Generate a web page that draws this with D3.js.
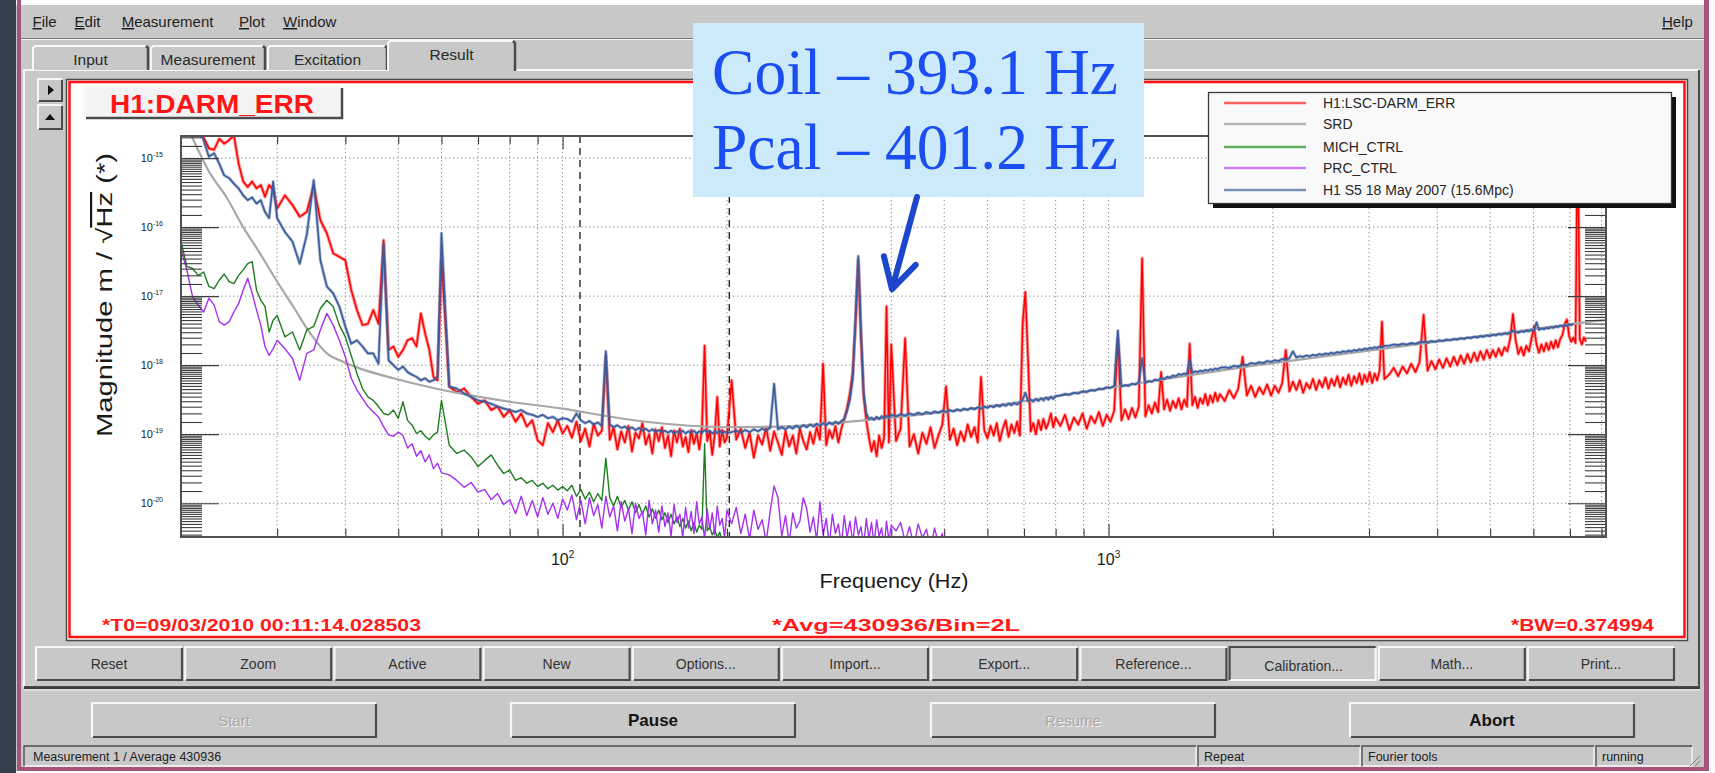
<!DOCTYPE html>
<html>
<head>
<meta charset="utf-8">
<title>H1:DARM_ERR</title>
<script src="https://cdn.jsdelivr.net/npm/d3@7"></script>
<style>
  html, body { margin: 0; padding: 0; background: #ffffff; }
  svg { display: block; }
  text { font-family: "Liberation Sans", Arial, Helvetica, sans-serif; }
  text.serif { font-family: "Liberation Serif", "Times New Roman", serif; }
</style>
</head>
<body>
<svg id="dtt" width="1715" height="773"></svg>
<script>
// ---------------- data ----------------
const menuItems = ["File", "Edit", "Measurement", "Plot", "Window"];
const helpItem = "Help";
const tabNames = ["Input", "Measurement", "Excitation", "Result"];
const activeTab = "Result";
const plotTitle = "H1:DARM_ERR";
const traceNames = ["H1:LSC-DARM_ERR", "SRD", "MICH_CTRL", "PRC_CTRL", "H1 S5 18 May 2007 (15.6Mpc)"];
const infoTexts = ["*T0=09/03/2010 00:11:14.028503", "*Avg=430936/Bin=2L", "*BW=0.374994"];
const actionButtons = ["Reset", "Zoom", "Active", "New", "Options...", "Import...", "Export...",
                       "Reference...", "Calibration...", "Math...", "Print..."];
const pressedButton = "Calibration...";
const controlButtons = ["Start", "Pause", "Resume", "Abort"];
const controlEnabled = [false, true, false, true];
const statusFields = ["Measurement 1 / Average 430936", "Repeat", "Fourier tools", "running"];
const xLabel = "Frequency (Hz)";

// axis ticks (Hz) and decades of the magnitude axis
const xDecadeTicks = [100, 1000];
const xMinorTicks = [30, 40, 50, 60, 70, 80, 90, 200, 300, 400, 500, 600, 700, 800, 900,
                     2000, 3000, 4000, 5000, 6000, 7000, 8000];
const yDecades = [-15, -16, -17, -18, -19, -20];
const yMinorMantissa = [1.5, 2, 2.5, 3, 3.5, 4, 4.5, 5, 5.5, 6, 6.5, 7, 7.5, 8, 8.5, 9, 9.5];

// cursor positions (Hz) and the calibration lines
const cursorFreqs = [107.6, 202];
const calLines = [["Coil", 393.1], ["Pcal", 401.2]];
const arrowTipLog = -16.9;

// frequency bins shared by the measured spectra (Hz)
const freqBins = [
  20, 20.5, 21, 21.5, 22, 22.5, 23, 23.5, 24, 24.5, 25, 25.5, 26, 26.5, 27, 27.5, 28, 28.5, 29, 29.5, 30,
  31, 32, 33, 34, 35, 36, 37, 38, 39, 40, 41, 42, 43, 44, 45, 46, 47, 48, 49, 50,
  51, 52, 53, 54, 55, 56, 57, 58, 59, 60,
  62, 64, 66, 68, 70, 72, 74, 76, 78, 80, 82, 84, 86, 88, 90, 92, 94, 96, 98, 100,
  102, 104, 106, 108, 110, 112, 114, 116, 118, 120, 122, 124, 126, 128, 130, 132, 134, 136, 138, 140,
  142, 144, 146, 148, 150, 152, 154, 156, 158, 160, 162, 164, 166, 168, 170, 172, 174, 176, 178, 180,
  182, 184, 186, 188, 190, 192, 194, 196, 198, 200,
  204, 208, 212, 216, 220, 224, 228, 232, 236, 240, 244, 248, 252, 256, 260, 264, 268, 272, 276, 280,
  284, 288, 292, 296, 300, 304, 308, 312, 316, 320, 324, 328, 332, 336, 340, 344, 348, 352, 356, 360,
  364, 368, 372, 376, 380, 384, 388, 392, 396, 400,
  408, 416, 424, 432, 440, 448, 456, 464, 472, 480, 488, 496, 504, 512, 520, 528, 536, 544, 552, 560,
  568, 576, 584, 592, 600, 608, 616, 624, 632, 640, 648, 656, 664, 672, 680, 688, 696, 704, 712, 720,
  728, 736, 744, 752, 760, 768, 776, 784, 792, 800,
  816, 832, 848, 864, 880, 896, 912, 928, 944, 960, 976, 992, 1008, 1024, 1040, 1056, 1072, 1088, 1104, 1120,
  1136, 1152, 1168, 1184, 1200, 1216, 1232, 1248, 1264, 1280, 1296, 1312, 1328, 1344, 1360, 1376, 1392, 1408, 1424, 1440,
  1456, 1472, 1488, 1504, 1520, 1536, 1552, 1568, 1584, 1600,
  1632, 1664, 1696, 1728, 1760, 1792, 1824, 1856, 1888, 1920, 1952, 1984, 2016, 2048, 2080, 2112, 2144, 2176, 2208, 2240,
  2272, 2304, 2336, 2368, 2400, 2432, 2464, 2496, 2528, 2560, 2592, 2624, 2656, 2688, 2720, 2752, 2784, 2816, 2848, 2880,
  2912, 2944, 2976, 3008, 3040, 3072, 3104, 3136, 3168, 3200,
  3264, 3328, 3392, 3456, 3520, 3584, 3648, 3712, 3776, 3840, 3904, 3968, 4032, 4096, 4160, 4224, 4288, 4352, 4416, 4480,
  4544, 4608, 4672, 4736, 4800, 4864, 4928, 4992, 5056, 5120, 5184, 5248, 5312, 5376, 5440, 5504, 5568, 5632, 5696, 5760,
  5824, 5888, 5952, 6016, 6080, 6144, 6208, 6272, 6336, 6400, 6464, 6528, 6592, 6656, 6720, 6784, 6848, 6912, 6976, 7040,
  7104, 7168, 7232, 7296, 7360, 7424, 7488
];

// H1:LSC-DARM_ERR, log10 of m/rtHz, one value per bin
const darmErr = [
  // 20-30 Hz
  -14.5, -14.5, -14.5, -14.5, -14.7, -14.86, -14.88, -14.72, -14.79, -14.74, -14.67, -15.08, -15.34, -15.42, -15.34, -15.44, -15.39, -15.56, -15.39, -15.46, -15.73,
  // 31-60 Hz
  -15.54, -15.68, -15.85, -15.78, -15.40, -15.90, -16.09, -16.38, -16.43, -16.48, -16.91, -17.20, -17.42, -17.40, -17.20, -17.40, -16.19, -17.78, -17.73, -17.88,
  -17.78, -17.64, -17.61, -17.73, -17.25, -17.54, -17.78, -18.17, -18.22, -16.48,
  // 62-100 Hz
  -18.31, -18.39, -18.34, -18.46, -18.56, -18.51, -18.65, -18.60, -18.75, -18.65, -18.82, -18.70, -18.89, -18.80, -19.09, -19.16, -18.84, -18.97, -18.80, -18.99,
  // 102-200 Hz
  -18.88, -19.05, -18.82, -19.10, -18.92, -19.18, -18.85, -19.02, -18.95, -17.86, -19.08, -18.90, -19.22, -18.96, -19.12, -18.88, -19.25, -18.98, -19.06, -18.84,
  -19.15, -19.00, -19.28, -18.93, -19.10, -18.90, -19.20, -19.02, -19.32, -18.95, -19.12, -18.92, -19.18, -19.04, -19.26, -18.94, -19.14, -18.99, -19.22, -18.90,
  -17.72, -19.10, -18.96, -19.30, -19.00, -18.46, -19.18, -18.94, -19.12, -19.05,
  // 204-400 Hz
  -18.22, -19.08, -18.92, -19.20, -18.98, -19.34, -19.02, -19.15, -18.90, -19.24, -18.96, -19.12, -19.30, -18.95, -19.18, -19.02, -19.28, -18.92, -19.10, -19.22,
  -18.97, -19.14, -18.90, -19.08, -17.98, -19.16, -18.94, -19.06, -18.88, -19.12, -18.92, -18.78, -18.62, -18.40, -18.10, -17.40, -16.48, -17.60, -18.45, -18.80,
  -19.05, -19.25, -19.10, -19.32, -19.02, -19.20, -19.06, -17.15, -19.12, -17.70,
  // 408-800 Hz
  -19.10, -18.92, -17.61, -19.18, -19.00, -19.28, -18.98, -19.14, -18.90, -19.20, -19.02, -18.86, -18.31, -19.08, -18.92, -19.16, -18.96, -19.10, -18.86, -19.04,
  -18.90, -19.12, -18.17, -18.94, -19.06, -18.88, -19.02, -18.84, -19.10, -18.92, -18.80, -19.04, -18.86, -18.98, -18.82, -19.02, -17.40, -16.94, -17.90, -18.96,
  -18.84, -19.00, -18.80, -18.94, -18.78, -18.92, -18.84, -18.70, -18.90, -18.76,
  // 816-1600 Hz
  -18.88, -18.72, -18.94, -18.76, -18.86, -18.70, -18.92, -18.74, -18.84, -18.68, -18.88, -18.72, -18.82, -18.66, -17.62, -18.80, -18.64, -18.78, -18.62, -18.76,
  -18.60, -16.45, -18.74, -18.58, -18.70, -18.54, -18.68, -18.10, -18.64, -18.50, -18.66, -18.52, -18.62, -18.48, -18.64, -18.50, -18.60, -17.69, -18.58, -18.46,
  -18.62, -18.48, -18.56, -18.42, -18.58, -18.44, -18.54, -18.40, -18.52, -18.42,
  // 1632-3200 Hz
  -18.52, -18.36, -18.48, -18.34, -17.88, -18.44, -18.30, -18.46, -18.32, -18.42, -18.28, -18.44, -18.30, -18.40, -18.26, -17.78, -18.38, -18.24, -18.36, -18.22,
  -18.40, -18.26, -18.34, -18.20, -18.36, -18.22, -18.32, -18.18, -18.34, -18.20, -18.30, -18.16, -18.32, -18.18, -18.28, -18.14, -18.30, -18.16, -18.26, -18.12,
  -18.28, -18.14, -18.24, -18.10, -18.26, -18.12, -18.22, -18.08, -17.37, -18.20,
  // 3264-7488 Hz
  -18.14, -18.04, -18.16, -18.02, -18.12, -17.98, -18.10, -17.96, -17.27, -18.08, -17.94, -18.06, -17.92, -18.04, -17.90, -18.02, -17.88, -18.00, -17.86, -17.98,
  -17.84, -17.96, -17.82, -17.94, -17.80, -17.92, -17.78, -17.90, -17.78, -17.88, -17.76, -17.86, -17.74, -17.80, -17.62, -17.26, -17.64, -17.84, -17.74, -17.86,
  -17.72, -17.80, -17.62, -17.44, -17.70, -17.82, -17.70, -17.80, -17.68, -17.78, -17.66, -17.76, -17.64, -17.74, -17.62, -17.56, -17.40, -17.34, -17.58, -17.66,
  -17.60, -17.68, -14.40, -17.62, -17.70, -17.60, -17.66
];

// H1 S5 reference (18 May 2007), log10 of m/rtHz
const s5Ref = [
  // 20-30 Hz
  -14.5, -14.5, -14.5, -14.5, -14.74, -14.98, -14.93, -15.08, -15.25, -15.29, -15.37, -15.44, -15.54, -15.61, -15.57, -15.66, -15.61, -15.78, -15.87, -15.34, -15.87,
  // 31-60 Hz
  -16.07, -16.21, -16.53, -16.11, -15.32, -16.48, -16.86, -16.96, -17.15, -17.44, -17.69, -17.64, -17.73, -17.83, -17.83, -17.98, -16.24, -17.93, -18.00, -18.07,
  -18.02, -18.10, -18.14, -18.17, -18.22, -18.19, -18.24, -18.22, -18.17, -16.09,
  // 62-100 Hz
  -18.31, -18.34, -18.41, -18.46, -18.51, -18.53, -18.56, -18.60, -18.63, -18.65, -18.68, -18.65, -18.70, -18.72, -18.75, -18.72, -18.77, -18.75, -18.80, -18.77,
  // 102-200 Hz
  -18.78, -18.82, -18.70, -18.80, -18.84, -18.81, -18.86, -18.83, -18.88, -17.80, -18.86, -18.90, -18.87, -18.91, -18.89, -18.93, -18.90, -18.94, -18.91, -18.95,
  -18.92, -18.96, -18.93, -18.97, -18.94, -18.97, -18.95, -18.98, -18.95, -18.99, -18.96, -18.98, -18.95, -18.99, -18.96, -18.98, -18.95, -18.99, -18.96, -18.98,
  -18.94, -18.97, -18.95, -18.99, -18.96, -18.98, -18.95, -18.99, -18.96, -18.98,
  // 204-400 Hz
  -18.97, -18.95, -18.98, -18.94, -18.97, -18.93, -18.96, -18.92, -18.95, -18.91, -18.27, -18.93, -18.90, -18.93, -18.89, -18.92, -18.88, -18.91, -18.87, -18.90,
  -18.86, -18.89, -18.85, -18.88, -18.84, -18.87, -18.83, -18.86, -18.82, -18.85, -18.81, -18.78, -18.66, -18.50, -18.20, -17.30, -16.42, -17.50, -18.40, -18.70,
  -18.78, -18.76, -18.79, -18.75, -18.78, -18.74, -18.77, -18.73, -18.76, -18.72,
  // 408-800 Hz
  -18.74, -18.71, -18.73, -18.70, -18.72, -18.69, -18.71, -18.68, -18.70, -18.67, -18.69, -18.66, -18.68, -18.65, -18.67, -18.64, -18.66, -18.63, -18.65, -18.62,
  -18.64, -18.61, -18.63, -18.60, -18.62, -18.59, -18.61, -18.58, -18.60, -18.57, -18.59, -18.56, -18.58, -18.55, -18.57, -18.54, -18.50, -18.40, -18.52, -18.50,
  -18.53, -18.49, -18.52, -18.48, -18.51, -18.47, -18.50, -18.46, -18.49, -18.45,
  // 816-1600 Hz
  -18.44, -18.42, -18.43, -18.40, -18.41, -18.38, -18.39, -18.36, -18.37, -18.34, -18.35, -18.32, -18.33, -18.30, -17.50, -18.31, -18.29, -18.30, -18.27, -18.28,
  -18.25, -17.90, -18.26, -18.23, -18.24, -18.21, -18.22, -18.19, -18.20, -18.17, -18.18, -18.15, -18.16, -18.13, -18.14, -18.12, -18.13, -17.92, -18.11, -18.09,
  -18.10, -18.08, -18.09, -18.07, -18.08, -18.06, -18.07, -18.05, -18.06, -18.04,
  // 1632-3200 Hz
  -18.03, -18.04, -18.01, -18.02, -17.99, -18.00, -17.97, -17.98, -17.96, -17.97, -17.94, -17.95, -17.93, -17.94, -17.91, -17.92, -17.90, -17.80, -17.89, -17.87,
  -17.88, -17.86, -17.87, -17.85, -17.86, -17.84, -17.85, -17.83, -17.84, -17.82, -17.83, -17.81, -17.82, -17.80, -17.81, -17.79, -17.80, -17.78, -17.79, -17.77,
  -17.78, -17.76, -17.77, -17.75, -17.76, -17.74, -17.75, -17.73, -17.74, -17.72,
  // 3264-7104 Hz
  -17.72, -17.70, -17.71, -17.69, -17.70, -17.68, -17.69, -17.67, -17.66, -17.67, -17.65, -17.66, -17.64, -17.65, -17.63, -17.64, -17.62, -17.63, -17.61, -17.62,
  -17.60, -17.61, -17.59, -17.60, -17.58, -17.59, -17.57, -17.58, -17.56, -17.57, -17.55, -17.56, -17.54, -17.55, -17.53, -17.50, -17.52, -17.53, -17.51, -17.52,
  -17.50, -17.51, -17.49, -17.50, -17.38, -17.49, -17.47, -17.48, -17.46, -17.47, -17.45, -17.46, -17.44, -17.45, -17.43, -17.44, -17.42, -17.43, -17.41, -17.42,
  -17.40
];

// MICH_CTRL, log10 of m/rtHz (20-200 Hz)
const michCtrl = [
  -16.21, -16.57, -16.60, -16.70, -16.65, -16.86, -16.89, -16.77, -16.68, -16.79, -16.82, -16.70, -16.62, -16.53, -16.50, -16.91, -17.06, -17.15, -17.52, -17.35, -17.28,
  -17.59, -17.52, -17.78, -17.49, -17.44, -17.18, -17.06, -17.15, -17.42, -17.59, -17.86, -18.12, -18.34, -18.46, -18.51, -18.60, -18.70, -18.72, -18.65, -18.77,
  -18.53, -18.80, -18.87, -18.99, -18.95, -19.03, -19.08, -19.01, -18.97, -18.51,
  -19.16, -19.28, -19.23, -19.33, -19.47, -19.38, -19.30, -19.45, -19.57, -19.52, -19.67, -19.63, -19.71, -19.67, -19.76, -19.71, -19.79, -19.74, -19.81, -19.76,
  -19.82, -19.74, -19.90, -19.80, -19.94, -19.84, -19.98, -19.86, -19.96, -19.35, -19.92, -20.04, -19.90, -20.06, -19.96, -20.10, -19.98, -20.14, -20.02, -20.16,
  -20.04, -20.20, -20.08, -20.22, -20.10, -20.24, -20.14, -20.28, -20.16, -20.30, -20.20, -20.34, -20.22, -20.36, -20.26, -20.40, -20.28, -20.42, -20.32, -20.38,
  -19.14, -20.40, -20.34, -20.46, -20.38, -20.50, -20.42, -20.56, -20.48, -20.60
];

// PRC_CTRL, log10 of m/rtHz (20-512 Hz)
const prcCtrl = [
  -16.33, -16.62, -17.01, -17.13, -17.23, -17.03, -17.13, -17.37, -17.42, -17.37, -17.23, -17.11, -16.91, -16.74, -16.96, -17.20, -17.42, -17.73, -17.86, -17.76, -17.64,
  -17.76, -17.90, -18.22, -17.83, -17.78, -17.49, -17.25, -17.42, -17.64, -17.88, -18.19, -18.36, -18.48, -18.60, -18.68, -18.75, -18.89, -19.01, -19.03, -18.97,
  -19.02, -19.20, -19.14, -19.32, -19.24, -19.40, -19.30, -19.50, -19.42, -19.56,
  -19.59, -19.67, -19.77, -19.70, -19.84, -19.80, -19.95, -19.86, -20.02, -19.95, -20.15, -19.90, -20.18, -19.96, -20.20, -19.92, -20.16, -20.00, -20.22, -19.94,
  -20.10, -19.88, -20.24, -19.96, -20.30, -19.92, -20.18, -20.02, -20.36, -19.90, -20.20, -20.04, -20.40, -19.98, -20.26, -20.08, -20.44, -20.00, -20.22, -20.12,
  -20.46, -19.96, -20.30, -20.10, -20.42, -20.04, -20.34, -20.14, -20.48, -20.02, -20.28, -20.16, -20.50, -20.06, -20.36, -20.12, -20.44, -19.98, -20.30, -20.20,
  -20.52, -20.08, -20.38, -20.14, -20.46, -20.04, -20.32, -20.22, -20.50, -20.10,
  -20.30, -20.06, -20.44, -20.16, -20.52, -20.10, -20.38, -20.24, -20.56, -20.12, -19.75, -19.92, -20.48, -20.18, -20.58, -20.14, -20.36, -20.26, -19.92, -20.08,
  -20.42, -20.20, -20.54, -19.98, -20.46, -20.22, -20.60, -20.16, -20.44, -20.30, -20.62, -20.18, -20.50, -20.26, -20.58, -20.20, -20.46, -20.34, -20.64, -20.22,
  -20.52, -20.28, -20.60, -20.24, -20.48, -20.36, -20.66, -20.26, -20.54, -20.32,
  -20.40, -20.28, -20.56, -20.34, -20.62, -20.30, -20.50, -20.38, -20.66, -20.36, -20.58, -20.44, -20.70, -20.60
];

// SRD design curve
const srdFreq = [20, 20.9, 22.6, 24.2, 26.0, 27.9, 29.9, 32.1, 34.5, 37.0, 39.6, 42.6, 49, 56.4, 64.9, 80, 100,
                 130, 160, 200, 250, 300, 400, 600, 1000, 2000, 3000, 5000, 8150];
const srdLog = [-14.38, -14.68, -15.22, -15.56, -16.0, -16.38, -16.77, -17.15, -17.54, -17.83, -17.95, -18.05, -18.19,
                -18.31, -18.41, -18.53, -18.63, -18.78, -18.86, -18.90, -18.89, -18.85, -18.76, -18.60, -18.33,
                -17.97, -17.79, -17.56, -17.34];

// ---------------- drawing ----------------
const svg = d3.select("#dtt");
const W = 1715, H = 773;
const GUI_BG = "#c8c8c8";
const HI = "#f7f7f7", LO = "#4b4b4b";

function bevel(g, x, y, w, h, opt = {}) {
  const fill = opt.fill || GUI_BG, sunken = !!opt.sunken, lw = opt.lw || 2;
  const b = g.append("g");
  b.append("rect").attr("x", x).attr("y", y).attr("width", w).attr("height", h).attr("fill", fill);
  b.append("path").attr("d", `M${x},${y + h} V${y} H${x + w}`)
    .attr("stroke", sunken ? LO : HI).attr("stroke-width", lw).attr("fill", "none");
  b.append("path").attr("d", `M${x + 1},${y + h} H${x + w} V${y + 1}`)
    .attr("stroke", sunken ? HI : LO).attr("stroke-width", lw).attr("fill", "none");
  return b;
}

// window frame
svg.append("rect").attr("width", W).attr("height", H).attr("fill", "#fdfdfd");
svg.append("rect").attr("x", 0).attr("y", 5).attr("width", 1709).attr("height", 766).attr("fill", GUI_BG);
svg.append("rect").attr("x", 0).attr("y", 0).attr("width", 16).attr("height", H).attr("fill", "#35414d");
svg.append("rect").attr("x", 17).attr("y", 0).attr("width", 4).attr("height", 771).attr("fill", "#a6557a");
svg.append("rect").attr("x", 1704).attr("y", 0).attr("width", 5).attr("height", 771).attr("fill", "#a6557a");
svg.append("rect").attr("x", 17).attr("y", 767).attr("width", 1692).attr("height", 4).attr("fill", "#a6557a");

// menu bar
const menuX = [32.5, 74.6, 121.7, 239, 283];
const menuG = svg.append("g").attr("font-size", 15).attr("fill", "#1e1e1e");
menuItems.forEach((m, i) => {
  const t = menuG.append("text").attr("x", menuX[i]).attr("y", 27);
  t.append("tspan").attr("text-decoration", "underline").text(m[0]);
  t.append("tspan").text(m.slice(1));
});
{
  const t = menuG.append("text").attr("x", 1662).attr("y", 27);
  t.append("tspan").attr("text-decoration", "underline").text(helpItem[0]);
  t.append("tspan").text(helpItem.slice(1));
}
svg.append("line").attr("x1", 21).attr("x2", 1704).attr("y1", 38.5).attr("y2", 38.5).attr("stroke", "#7d7d7d");
svg.append("line").attr("x1", 21).attr("x2", 1704).attr("y1", 39.5).attr("y2", 39.5).attr("stroke", "#f2f2f2");

// tab panel
const tabEdges = [[33, 148], [151, 265], [268, 387], [388, 515]];
const panel = svg.append("g");
panel.append("rect").attr("x", 24).attr("y", 70).attr("width", 1676).attr("height", 617).attr("fill", GUI_BG);
panel.append("path").attr("d", "M24,687 V70 H388 M515,70 H1700").attr("stroke", HI).attr("stroke-width", 2).attr("fill", "none");
panel.append("path").attr("d", "M1699,70 V687 H24").attr("stroke", LO).attr("stroke-width", 2).attr("fill", "none");

const tabG = svg.append("g").attr("font-size", 15.5).attr("fill", "#2a2a2a").attr("text-anchor", "middle");
tabNames.forEach((name, i) => {
  const [a, b] = tabEdges[i];
  const active = name === activeTab;
  const top = active ? 41 : 46;
  const bottom = active ? 71 : 70;
  tabG.append("rect").attr("x", a).attr("y", top).attr("width", b - a).attr("height", bottom - top).attr("fill", GUI_BG);
  tabG.append("path").attr("d", `M${a},${bottom} V${top + 2} L${a + 2},${top} H${b - 2}`)
    .attr("stroke", HI).attr("stroke-width", 2).attr("fill", "none");
  tabG.append("path").attr("d", `M${b - 2},${top} L${b},${top + 2} V${bottom}`)
    .attr("stroke", LO).attr("stroke-width", 2.5).attr("fill", "none");
  tabG.append("text").attr("x", (a + b) / 2).attr("y", active ? 60 : 65).text(name);
});

// small arrow buttons at the left of the plot
bevel(svg, 38, 79, 24, 22);
bevel(svg, 38, 105, 24, 24);
svg.append("path").attr("d", "M48,85 L54,90 L48,95 Z").attr("fill", "#111");
svg.append("path").attr("d", "M45,120 L50,114 L55,120 Z").attr("fill", "#111");

// plot frame
svg.append("rect").attr("x", 66.5).attr("y", 79.5).attr("width", 1621).attr("height", 561)
  .attr("fill", "#ffffff").attr("stroke", "#4a4a4a").attr("stroke-width", 1.5);
svg.append("rect").attr("x", 69.5).attr("y", 82).attr("width", 1615).attr("height", 555)
  .attr("fill", "none").attr("stroke", "#ff1212").attr("stroke-width", 2.5);

// scales
const plotL = 181, plotR = 1606, plotT = 136, plotB = 537;
const x = d3.scaleLog().domain([20, 8150]).range([plotL, plotR]);
const y = d3.scaleLog().domain([Math.pow(10, -20.49), Math.pow(10, -14.68)]).range([plotB, plotT]);
const yl = v => y(Math.pow(10, v));

const plot = svg.append("g");
svg.append("defs").append("clipPath").attr("id", "plotClip")
  .append("rect").attr("x", plotL).attr("y", plotT).attr("width", plotR - plotL).attr("height", plotB - plotT);

// grid
const gridG = plot.append("g").attr("stroke", "#8a8a8a").attr("stroke-width", 1).attr("stroke-dasharray", "1.3,2.7");
xMinorTicks.concat(xDecadeTicks).forEach(f => {
  gridG.append("line").attr("x1", x(f)).attr("x2", x(f)).attr("y1", plotT).attr("y2", plotB);
});
yDecades.forEach(d => {
  gridG.append("line").attr("x1", plotL).attr("x2", plotR).attr("y1", yl(d)).attr("y2", yl(d));
});

// cursors
cursorFreqs.forEach(f => {
  plot.append("line").attr("x1", x(f)).attr("x2", x(f)).attr("y1", plotT).attr("y2", plotB)
    .attr("stroke", "#262626").attr("stroke-width", 1.4).attr("stroke-dasharray", "7,5");
});

// traces
const traceStyles = [
  { color: "#ff0000", width: 1.5, halo: 3.4 },
  { color: "#a8a8a8", width: 2.2 },
  { color: "#1f7d1f", width: 1.4 },
  { color: "#a431ef", width: 1.4 },
  { color: "#3d5c9c", width: 1.6, halo: 3.2 }
];
const legendColors = ["#ff5f5f", "#b5b5b5", "#5fae5f", "#cc82f2", "#7f90b8"];

const pairs = vals => vals.map((v, i) => [freqBins[i], v]);
const line = d3.line().defined(d => d[1] != null).x(d => x(d[0])).y(d => yl(d[1]));
const srdLine = d3.line().curve(d3.curveMonotoneX).x(d => x(d[0])).y(d => yl(d[1]));

const traceG = plot.append("g").attr("clip-path", "url(#plotClip)").attr("fill", "none")
  .attr("stroke-linejoin", "round");
const series = [
  { path: line(pairs(darmErr)), s: traceStyles[0] },
  { path: srdLine(srdFreq.map((f, i) => [f, srdLog[i]])), s: traceStyles[1] },
  { path: line(pairs(michCtrl)), s: traceStyles[2] },
  { path: line(pairs(prcCtrl)), s: traceStyles[3] },
  { path: line(pairs(s5Ref)), s: traceStyles[4] }
];
series.forEach(d => {
  // a soft under-stroke thickens the dense noise floor of the averaged spectra
  if (d.s.halo) {
    traceG.append("path").attr("d", d.path).attr("stroke", d.s.color)
      .attr("stroke-width", d.s.halo).attr("stroke-opacity", 0.4);
  }
  traceG.append("path").attr("d", d.path).attr("stroke", d.s.color).attr("stroke-width", d.s.width);
});

// axes with inward ticks
function styleAxis(g) {
  g.select(".domain").remove();
  g.selectAll(".tick line").attr("stroke", "#3c3c3c").attr("stroke-width", 1.1);
}
plot.append("g").attr("transform", `translate(0,${plotB})`)
  .call(d3.axisBottom(x).tickValues(xMinorTicks).tickSize(-8).tickFormat("")).call(styleAxis);
plot.append("g").attr("transform", `translate(0,${plotB})`)
  .call(d3.axisBottom(x).tickValues(xDecadeTicks).tickSize(-13).tickFormat("")).call(styleAxis);
plot.append("g").attr("transform", `translate(0,${plotT})`)
  .call(d3.axisTop(x).tickValues(xMinorTicks).tickSize(-8).tickFormat("")).call(styleAxis);
plot.append("g").attr("transform", `translate(0,${plotT})`)
  .call(d3.axisTop(x).tickValues(xDecadeTicks).tickSize(-13).tickFormat("")).call(styleAxis);

const yMinorVals = [];
yDecades.concat([-14]).forEach(d => yMinorMantissa.forEach(m => {
  const v = m * Math.pow(10, d - 1);
  if (v > y.domain()[0] && v < y.domain()[1]) yMinorVals.push(v);
}));
const yMajorVals = yDecades.map(d => Math.pow(10, d));
plot.append("g").attr("transform", `translate(${plotL},0)`)
  .call(d3.axisLeft(y).tickValues(yMinorVals).tickSize(-21).tickFormat("")).call(styleAxis);
plot.append("g").attr("transform", `translate(${plotL},0)`)
  .call(d3.axisLeft(y).tickValues(yMajorVals).tickSize(-38).tickFormat("")).call(styleAxis);
plot.append("g").attr("transform", `translate(${plotR},0)`)
  .call(d3.axisRight(y).tickValues(yMinorVals).tickSize(-21).tickFormat("")).call(styleAxis);
plot.append("g").attr("transform", `translate(${plotR},0)`)
  .call(d3.axisRight(y).tickValues(yMajorVals).tickSize(-38).tickFormat("")).call(styleAxis);

plot.append("rect").attr("x", plotL).attr("y", plotT).attr("width", plotR - plotL).attr("height", plotB - plotT)
  .attr("fill", "none").attr("stroke", "#505050").attr("stroke-width", 2);

// tick labels
const labelG = plot.append("g").attr("fill", "#1a1a1a");
xDecadeTicks.forEach(f => {
  const t = labelG.append("text").attr("x", x(f)).attr("y", 565).attr("text-anchor", "middle").attr("font-size", 16);
  t.append("tspan").text("10");
  t.append("tspan").attr("dy", -7).attr("font-size", 10).text(String(Math.round(Math.log10(f))));
});
yDecades.forEach(d => {
  const t = labelG.append("text").attr("x", 163).attr("y", yl(d) + 4).attr("text-anchor", "end").attr("font-size", 11);
  t.append("tspan").text("10");
  t.append("tspan").attr("dy", -5).attr("font-size", 7).text(String(d));
});

// axis titles
labelG.append("text").attr("x", 894).attr("y", 588).attr("text-anchor", "middle").attr("font-size", 21)
  .attr("textLength", 149).attr("lengthAdjust", "spacingAndGlyphs").text(xLabel);
{
  const t = labelG.append("text").attr("transform", "translate(112,295) rotate(-90)")
    .attr("text-anchor", "middle").attr("font-size", 22)
    .attr("textLength", 284).attr("lengthAdjust", "spacingAndGlyphs");
  t.append("tspan").text("Magnitude m / \u221A");
  t.append("tspan").attr("text-decoration", "overline").text("Hz");
  t.append("tspan").text(" (*)");
}

// legend
const lg = svg.append("g");
lg.append("rect").attr("x", 1213).attr("y", 97).attr("width", 463).attr("height", 111).attr("fill", "#111");
lg.append("rect").attr("x", 1208.5).attr("y", 92.5).attr("width", 463).attr("height", 111)
  .attr("fill", "#f9f9f9").attr("stroke", "#3a3a3a").attr("stroke-width", 1.3);
const rowY = [103, 124, 147, 168, 190];
traceNames.forEach((n, i) => {
  lg.append("line").attr("x1", 1224).attr("x2", 1306).attr("y1", rowY[i]).attr("y2", rowY[i])
    .attr("stroke", legendColors[i]).attr("stroke-width", 2.6);
  lg.append("text").attr("x", 1323).attr("y", rowY[i] + 5).attr("font-size", 14).attr("fill", "#262626").text(n);
});

// plot title
bevel(svg, 85, 87, 257, 31, { fill: "#f3f3f3", lw: 2.5 });
svg.append("text").attr("x", 110).attr("y", 113).attr("font-size", 25).attr("font-weight", "bold")
  .attr("fill", "#ff1515").attr("textLength", 204).attr("lengthAdjust", "spacingAndGlyphs").text(plotTitle);

// measurement info
const infoG = svg.append("g").attr("font-size", 17).attr("font-weight", "bold").attr("fill", "#ff1a1a");
infoG.append("text").attr("x", 102).attr("y", 631).attr("textLength", 319).attr("lengthAdjust", "spacingAndGlyphs").text(infoTexts[0]);
infoG.append("text").attr("x", 772).attr("y", 631).attr("textLength", 248).attr("lengthAdjust", "spacingAndGlyphs").text(infoTexts[1]);
infoG.append("text").attr("x", 1511).attr("y", 631).attr("textLength", 143).attr("lengthAdjust", "spacingAndGlyphs").text(infoTexts[2]);

// action buttons
const btnG = svg.append("g").attr("font-size", 14).attr("text-anchor", "middle");
actionButtons.forEach((b, i) => {
  const bx = 36 + i * 149.2, pressed = b === pressedButton;
  bevel(btnG, bx, 647, 146, 33, { sunken: pressed, lw: 2.2 });
  btnG.append("text").attr("x", bx + 73 + (pressed ? 1 : 0)).attr("y", 669 + (pressed ? 2 : 0))
    .attr("fill", "#333").text(b);
});
svg.append("line").attr("x1", 24).attr("x2", 1700).attr("y1", 688).attr("y2", 688).attr("stroke", "#3e3e3e").attr("stroke-width", 2);
svg.append("line").attr("x1", 24).attr("x2", 1700).attr("y1", 690).attr("y2", 690).attr("stroke", "#efefef").attr("stroke-width", 1);

// run controls
const ctrlX = [92, 511, 931, 1350];
controlButtons.forEach((b, i) => {
  bevel(svg, ctrlX[i], 703, 284, 34, { lw: 2.2 });
  if (controlEnabled[i]) {
    svg.append("text").attr("x", ctrlX[i] + 142).attr("y", 726).attr("text-anchor", "middle")
      .attr("font-size", 17).attr("font-weight", "bold").attr("fill", "#141414").text(b);
  } else {
    svg.append("text").attr("x", ctrlX[i] + 143).attr("y", 727).attr("text-anchor", "middle")
      .attr("font-size", 15).attr("fill", "#f2f2f2").text(b);
    svg.append("text").attr("x", ctrlX[i] + 142).attr("y", 726).attr("text-anchor", "middle")
      .attr("font-size", 15).attr("fill", "#a8a8a8").text(b);
  }
});

// status bar
const statX = [24, 1198, 1362, 1596], statW = [1172, 162, 232, 96];
statusFields.forEach((s, i) => {
  bevel(svg, statX[i], 746, statW[i], 20, { sunken: true, lw: 1.3 });
  svg.append("text").attr("x", statX[i] + (i === 0 ? 9 : 6)).attr("y", 761).attr("font-size", 12.5)
    .attr("fill", "#202020").text(s);
});
[0, 5, 10].forEach(k => {
  svg.append("line").attr("x1", 1700 - k).attr("y1", 766).attr("x2", 1700).attr("y2", 766 - k)
    .attr("stroke", "#7a7a7a");
});

// calibration line callout
const callout = svg.append("g");
callout.append("rect").attr("x", 693).attr("y", 23).attr("width", 451).attr("height", 174).attr("fill", "#cdeafa");
calLines.forEach(([name, f], i) => {
  callout.append("text").attr("class", "serif").attr("x", 712).attr("y", 94 + i * 75)
    .attr("font-size", 66)
    .attr("fill", "#1b4ef2").attr("textLength", 406).attr("lengthAdjust", "spacingAndGlyphs")
    .text(`${name} \u2013 ${f} Hz`);
});
{
  const tip = [x(calLines[1][1]), yl(arrowTipLog)];
  const tail = [917, 197];
  const dx = tail[0] - tip[0], dy = tail[1] - tip[1], len = Math.hypot(dx, dy);
  const ux = dx / len, uy = dy / len, a = 29 * Math.PI / 180, L = 34;
  const arm = s => [tip[0] + L * (ux * Math.cos(s * a) - uy * Math.sin(s * a)),
                    tip[1] + L * (ux * Math.sin(s * a) + uy * Math.cos(s * a))];
  const a1 = arm(1), a2 = arm(-1);
  callout.append("path")
    .attr("d", `M${tail[0]},${tail[1]} L${tip[0]},${tip[1]} M${a1[0]},${a1[1]} L${tip[0]},${tip[1]} L${a2[0]},${a2[1]}`)
    .attr("stroke", "#1c46cc").attr("stroke-width", 6).attr("fill", "none")
    .attr("stroke-linecap", "round").attr("stroke-linejoin", "round");
}
</script>
</body>
</html>
